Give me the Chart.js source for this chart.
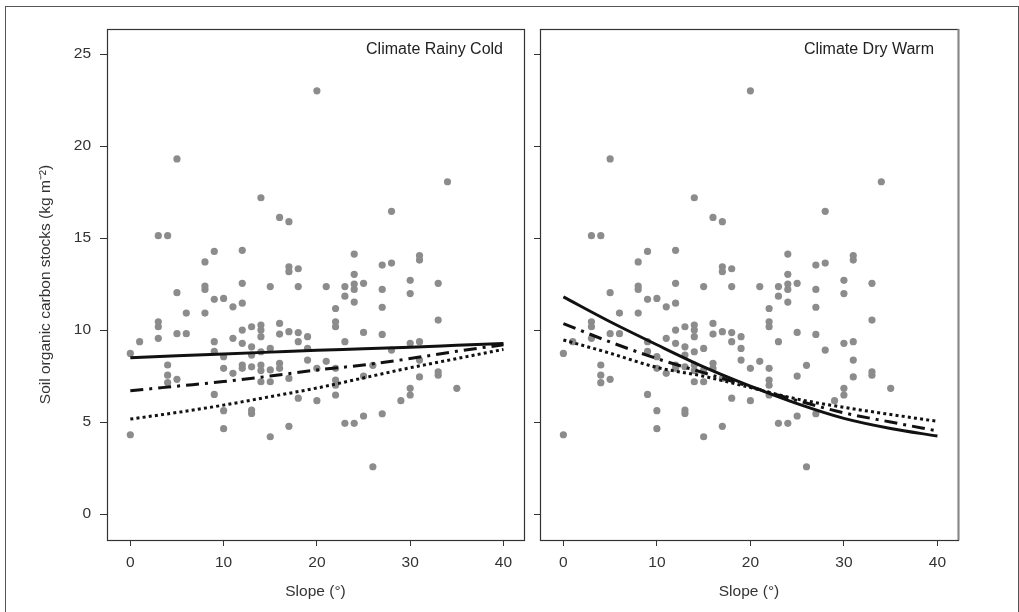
<!DOCTYPE html>
<html><head><meta charset="utf-8">
<script src="https://cdn.jsdelivr.net/npm/chart.js@4.4.1/dist/chart.umd.min.js"></script>
<style>
html,body{margin:0;padding:0;background:#fff;width:1019px;height:612px;overflow:hidden}
#frame{position:absolute;left:5px;top:6px;width:1014px;height:700px;border:1.5px solid #555;box-sizing:border-box}
canvas{position:absolute;top:0}
#c1{left:0}
#c2{left:530px}
</style></head><body>
<div id="frame"></div>
<canvas id="c1" width="530" height="612"></canvas>
<canvas id="c2" width="489" height="612"></canvas>
<script>
// ---------- data ----------
const panelTitles = ["Climate Rainy Cold", "Climate Dry Warm"];
const xTicks = [0, 10, 20, 30, 40];
const yTicks = [0, 5, 10, 15, 20, 25];
const xAxisTitle = "Slope (°)";
const yAxisTitle = "Soil organic carbon stocks (kg m⁻²)";

// observed points (same in both panels)
const slope = [
  0,0, 1, 3,3,3,3, 4,4,4,4, 5,5,5,5, 6,6, 8,8,8,8, 9,9,9,9,9,
  10,10,10,10,10, 11,11,11, 12,12,12,12,12,12,12, 13,13,13,13,13,13,
  14,14,14,14,14,14,14,14, 15,15,15,15,15, 16,16,16,16,16,
  17,17,17,17,17,17, 18,18,18,18,18, 19,19,19, 20,20,20, 21,21,
  22,22,22,22,22,22,22, 23,23,23,23, 24,24,24,24,24,24, 25,25,25,25,
  26,26, 27,27,27,27,27, 28,28,28, 29, 30,30,30,30,30, 31,31,31,31,31,
  33,33,33,33, 34, 35
];
const soc = [
  8.73,4.31, 9.37, 15.13,10.45,10.18,9.55, 15.13,8.1,7.55,7.14, 19.3,12.03,9.8,7.32, 10.92,9.8,
  13.7,12.39,12.21,10.92, 14.27,11.67,9.37,8.84,6.5,
  11.72,8.55,7.92,5.62,4.64, 11.26,9.55,7.65, 14.33,12.54,11.46,10.0,9.28,8.1,7.92,
  10.18,9.09,8.64,8.0,5.65,5.47,
  17.19,10.27,10.0,9.64,8.82,8.1,7.8,7.19, 12.36,9.0,7.83,7.19,4.2, 16.12,10.36,9.78,8.19,7.92,
  15.89,13.44,13.17,9.91,7.37,4.77, 13.33,12.36,9.86,9.37,6.3, 9.64,9.0,8.37, 23.0,7.92,6.16, 12.36,8.3,
  11.17,10.45,10.18,7.92,7.28,7.0,6.47, 12.36,11.84,9.37,4.93, 14.13,13.03,12.5,12.21,11.52,4.93,
  12.54,9.87,7.5,5.33, 8.08,2.57, 13.53,12.21,11.24,9.76,5.45, 16.45,13.64,8.91, 6.16,
  12.7,11.98,9.28,6.83,6.47, 14.05,13.8,9.37,8.37,7.45, 12.54,10.54,7.73,7.55, 18.06, 6.83
];

// fitted curves, read at slope = 0,5,...,40
const curveX = [0, 5, 10, 15, 20, 25, 30, 35, 40];
const coldSolid   = [8.5, 8.6, 8.7, 8.8, 8.9, 8.98, 9.07, 9.17, 9.27];
const coldDashDot = [6.7, 6.95, 7.2, 7.5, 7.83, 8.1, 8.45, 8.85, 9.2];
const coldDotted  = [5.16, 5.52, 5.92, 6.38, 6.85, 7.4, 7.95, 8.45, 8.95];
const warmSolid   = [11.8, 10.45, 9.2, 8.0, 6.95, 6.0, 5.2, 4.65, 4.24];
const warmDashDot = [10.35, 9.35, 8.45, 7.68, 6.92, 6.17, 5.5, 5.0, 4.52];
const warmDotted  = [9.46, 8.74, 7.97, 7.49, 6.87, 6.25, 5.8, 5.41, 5.04];

// ---------- chart ----------
const FONT = '"Liberation Sans", Arial, Helvetica, sans-serif';
const pts = slope.map((s, i) => ({x: s, y: soc[i]}));
const toXY = arr => curveX.map((x, i) => ({x, y: arr[i]}));

function lineDs(arr, dash, width) {
  return {type: 'line', data: toXY(arr), borderColor: '#111', borderWidth: width,
    borderDash: dash, borderCapStyle: 'butt', pointRadius: 0, fill: false,
    tension: 0.4, cubicInterpolationMode: 'monotone', order: 1};
}

const boxPlugin = {
  id: 'box',
  afterDraw(chart, args, o) {
    const {ctx, chartArea: a} = chart;
    ctx.save();
    ctx.strokeStyle = '#333';
    ctx.lineWidth = 1.2;
    ctx.strokeRect(a.left + 0.5, a.top + 0.5, a.right - a.left, a.bottom - a.top);
    if (o.rightGray) {
      ctx.strokeStyle = '#888'; ctx.lineWidth = 2;
      ctx.beginPath(); ctx.moveTo(a.right + 0.5, a.top); ctx.lineTo(a.right + 0.5, a.bottom); ctx.stroke();
    }
    ctx.fillStyle = '#222';
    ctx.font = '16px ' + FONT;
    ctx.textAlign = 'right';
    ctx.textBaseline = 'middle';
    ctx.fillText(o.label, a.right - o.labelInset, a.top + 21);
    ctx.restore();
  }
};

function makePanel(id, idx, solid, dashdot, dotted) {
  const left = idx === 0;
  return new Chart(document.getElementById(id), {
    type: 'scatter',
    data: {datasets: [
      lineDs(solid, [], 3),
      lineDs(dashdot, [13, 6, 3, 6], 3),
      lineDs(dotted, [3, 3.2], 3),
      {type: 'scatter', data: pts, backgroundColor: '#8c8c8c', borderWidth: 0,
       pointRadius: 3.6, order: 10}
    ]},
    options: {
      responsive: false, animation: false,
      layout: {padding: {top: 29, right: left ? 6 : 61, bottom: 0, left: 0}},
      plugins: {legend: {display: false}, tooltip: {enabled: false},
        box: {label: panelTitles[idx], labelInset: left ? 21 : 24, rightGray: !left}},
      scales: {
        x: {type: 'linear', min: -2.5, max: 42.2,
          afterBuildTicks: s => { s.ticks = xTicks.map(v => ({value: v})); },
          afterFit: s => { s.height = 72; },
          grid: {drawOnChartArea: false, drawTicks: true, tickLength: 6, color: '#333'},
          border: {display: false},
          ticks: {padding: 7, color: '#333', font: {family: FONT, size: 15.5}},
          title: {display: true, text: xAxisTitle, color: '#333', padding: {top: 0, bottom: 11},
            font: {family: FONT, size: 15.5}}
        },
        y: {type: 'linear', min: -1.41, max: 26.36,
          afterBuildTicks: s => { s.ticks = yTicks.map(v => ({value: v})); },
          afterFit: s => { s.width = left ? 107 : 10; },
          grid: {drawOnChartArea: false, drawTicks: true, tickLength: left ? 7 : 6, color: '#333'},
          border: {display: false},
          ticks: {display: left, padding: 9, color: '#333', font: {family: FONT, size: 15.5}},
          title: {display: left, text: yAxisTitle, color: '#333', padding: {top: 36, bottom: 0},
            font: {family: FONT, size: 15.5}}
        }
      }
    },
    plugins: [boxPlugin]
  });
}

makePanel('c1', 0, coldSolid, coldDashDot, coldDotted);
makePanel('c2', 1, warmSolid, warmDashDot, warmDotted);
</script>
</body></html>
